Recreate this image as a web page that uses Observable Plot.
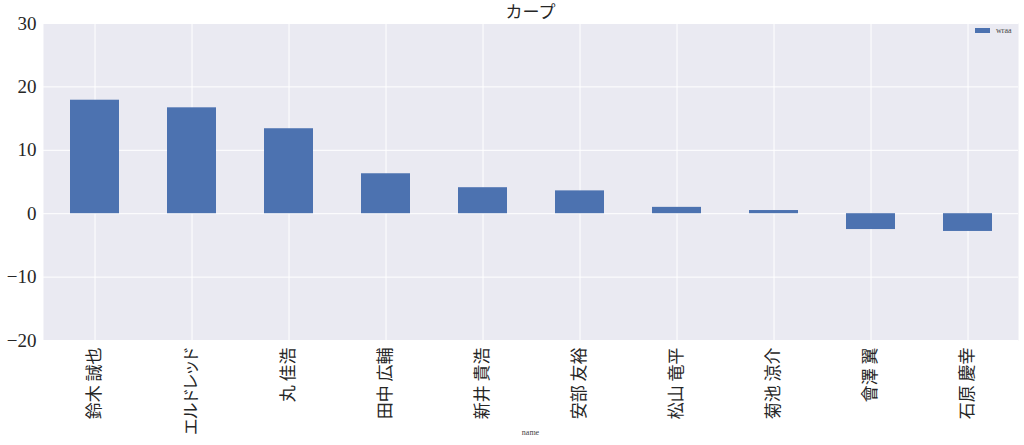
<!DOCTYPE html>
<html>
<head>
<meta charset="utf-8">
<script src="https://cdn.jsdelivr.net/npm/d3@7"></script>
<script src="https://cdn.jsdelivr.net/npm/@observablehq/plot@0.6"></script>
<style>
  body { margin: 0; background: white; }
  #wrap { position: relative; width: 1024px; height: 445px; }
  #title { position: absolute; left: 0; width: 1061px; top: 0px; text-align: center; font-family: "Noto Sans CJK JP", sans-serif; font-size: 17px; color: #262626; line-height: 22px; }
  #xlabel { position: absolute; left: 0; width: 1061px; top: 428px; text-align: center; font-family: "Liberation Serif", serif; font-size: 8px; color: #444; }
  #legend { position: absolute; left: 975px; top: 26px; font-family: "Liberation Serif", serif; font-size: 8px; color: #444; display: flex; align-items: center; }
  #legend .sw { width: 15px; height: 5px; background: #4C72B0; margin-right: 6px; }
  .xax text { font-feature-settings: "palt"; }
</style>
</head>
<body>
<div id="wrap">
  <div id="chart"></div>
  <div id="title">カープ</div>
  <div id="legend"><div class="sw"></div><span>wraa</span></div>
  <div id="xlabel">name</div>
</div>
<script>
const names = ["鈴木 誠也", "エルドレッド", "丸 佳浩", "田中 広輔", "新井 貴浩", "安部 友裕", "松山 竜平", "菊池 涼介", "會澤 翼", "石原 慶幸"];
const wraa = [17.9, 16.7, 13.4, 6.3, 4.1, 3.6, 1.0, 0.5, -2.5, -2.8];
const yTicks = [-20, -10, 0, 10, 20, 30];

const data = names.map((name, i) => ({name, wraa: wraa[i]}));

const chart = Plot.plot({
  width: 1024,
  height: 445,
  marginLeft: 43,
  marginRight: 6,
  marginTop: 23,
  marginBottom: 105,
  style: {background: "white", color: "#262626"},
  x: {domain: names, paddingInner: 0.5, paddingOuter: 0.25, label: null},
  y: {domain: [-20, 30], label: null},
  marks: [
    Plot.frame({fill: "#EAEAF2", stroke: null}),
    Plot.gridY(yTicks, {stroke: "white", strokeOpacity: 1, strokeWidth: 1}),
    Plot.gridX(names, {stroke: "white", strokeOpacity: 1, strokeWidth: 1}),
    Plot.barY(data, {x: "name", y: "wraa", fill: "#4C72B0"}),
    Plot.axisY(yTicks, {tickSize: 0, tickPadding: 7, fontSize: 19, fontFamily: "Liberation Serif", tickFormat: d => d < 0 ? "\u2212" + Math.abs(d) : String(d), label: null}),
    Plot.axisX({tickSize: 0, tickRotate: -90, tickPadding: 7, fontSize: 17, fontFamily: "Noto Sans CJK JP", label: null, className: "xax"})
  ]
});
document.getElementById("chart").appendChild(chart);
</script>
</body>
</html>
